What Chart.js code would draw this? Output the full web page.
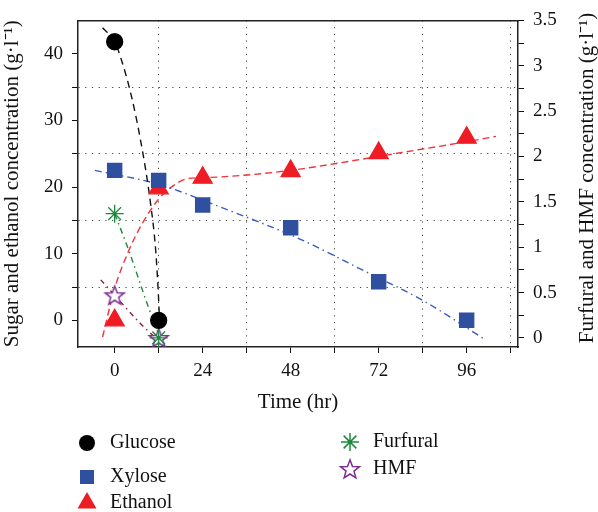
<!DOCTYPE html>
<html>
<head>
<meta charset="utf-8">
<script src="https://cdn.jsdelivr.net/npm/chart.js@4.4.1/dist/chart.umd.min.js"></script>
<style>
  html, body { margin: 0; padding: 0; background: #fff; }
  #wrap { width: 598px; height: 512px; position: relative; }
</style>
</head>
<body>
<div id="wrap"><canvas id="chart" width="598" height="512"></canvas></div>
<script>
// measured points
var glucoseHours = [0, 12];
var glucose = [41.8, 0];
var xyloseHours = [0, 12, 24, 48, 72, 96];
var xylose = [22.5, 21.0, 17.3, 13.9, 5.8, 0];
var ethanolHours = [0, 12, 24, 48, 72, 96];
var ethanol = [0, 19.8, 21.4, 22.4, 25.1, 27.4];
var inhibitorHours = [0, 12];
var furfural = [1.37, 0];
var hmf = [0.47, 0];

// fitted trend curves
var glucoseFitX = [-3.3, 0, 2, 4.5, 7.2, 9.7, 11.2, 12, 12.3];
var glucoseFitY = [43.9, 41.8, 38.8, 33.8, 26.6, 17.9, 10.4, 3, -1];
var xyloseFitX = [-5.4, 12, 28.8, 50.5, 67.4, 84, 100.5];
var xyloseFitY = [22.5, 20.4, 17.0, 12.2, 7.6, 3.0, -2.7];
var ethanolFitX = [-3.3, 0, 3.8, 7.4, 12, 16.5, 20.1, 24, 36, 48, 60, 72, 84, 96, 104];
var ethanolFitY = [-2.5, 4.8, 10.4, 14.4, 18.2, 20.4, 21.3, 21.4, 21.8, 22.5, 23.5, 24.6, 25.7, 26.8, 27.6];
var furfuralFitX = [0, 3.8, 9.2, 12, 13.9];
var furfuralFitY = [1.37, 0.97, 0.34, 0.05, -0.1];
var hmfFitX = [-3.8, 0, 7, 12];
var hmfFitY = [0.64, 0.47, 0.16, -0.03];

// axis ticks
var timeTicks = [0, 12, 24, 36, 48, 60, 72, 84, 96, 108];
var sugarTicks = [0, 5, 10, 15, 20, 25, 30, 35, 40];
var inhibitorTicks = [0, 0.25, 0.5, 0.75, 1, 1.25, 1.5, 1.75, 2, 2.25, 2.5, 2.75, 3, 3.25, 3.5];

var FONT = 'Liberation Serif';
var BLACK = '#000';
var BLUE = '#2f4f9f';
var RED = '#ee1d25';
var GREEN = '#1c8a3c';
var PURPLE = '#7b2f90';

function zip(xs, ys) {
  return xs.map(function (x, i) { return { x: x, y: ys[i] }; });
}

function starPath(ctx, x, y, r) {
  ctx.beginPath();
  for (var i = 0; i < 10; i++) {
    var rr = i % 2 === 0 ? r : r * 0.42;
    var a = -Math.PI / 2 + i * Math.PI / 5;
    var px = x + Math.cos(a) * rr, py = y + Math.sin(a) * rr;
    if (i === 0) ctx.moveTo(px, py); else ctx.lineTo(px, py);
  }
  ctx.closePath();
}

// open star marker for HMF
var starImg = document.createElement('canvas');
starImg.width = 24; starImg.height = 24;
(function () {
  var c = starImg.getContext('2d');
  starPath(c, 12, 12.8, 10);
  c.fillStyle = '#fff';
  c.fill();
  c.lineWidth = 1.5;
  c.strokeStyle = PURPLE;
  c.stroke();
})();

function fitLine(data, color, dash, axis) {
  return {
    type: 'line', data: data, yAxisID: axis,
    borderColor: color, borderWidth: 1.4, borderDash: dash,
    pointRadius: 0, fill: false, cubicInterpolationMode: 'monotone', order: 2
  };
}

function markers(data, style, fill, stroke, radius, axis) {
  return {
    type: 'line', data: data, yAxisID: axis, showLine: false,
    pointStyle: style, pointRadius: radius, pointBackgroundColor: fill,
    pointBorderColor: stroke, pointBorderWidth: 1.3, order: 1
  };
}

var legendItems = [
  { label: 'Glucose', kind: 'circle', x: 87, y: 443 },
  { label: 'Xylose', kind: 'rect', x: 87, y: 477 },
  { label: 'Ethanol', kind: 'triangle', x: 87, y: 503 },
  { label: 'Furfural', kind: 'asterisk', x: 350, y: 442 },
  { label: 'HMF', kind: 'star', x: 350, y: 469 }
];

function drawMarker(ctx, kind, x, y) {
  ctx.save();
  if (kind === 'circle') {
    ctx.beginPath(); ctx.arc(x, y, 8, 0, Math.PI * 2);
    ctx.fillStyle = BLACK; ctx.fill();
  } else if (kind === 'rect') {
    ctx.fillStyle = BLUE; ctx.fillRect(x - 7, y - 7, 14, 14);
  } else if (kind === 'triangle') {
    ctx.beginPath();
    ctx.moveTo(x, y - 11); ctx.lineTo(x + 9.5, y + 5.5); ctx.lineTo(x - 9.5, y + 5.5);
    ctx.closePath(); ctx.fillStyle = RED; ctx.fill();
  } else if (kind === 'asterisk') {
    ctx.strokeStyle = GREEN; ctx.lineWidth = 1.5;
    ctx.beginPath();
    for (var i = 0; i < 4; i++) {
      var a = i * Math.PI / 4;
      ctx.moveTo(x + Math.cos(a) * 9, y + Math.sin(a) * 9);
      ctx.lineTo(x - Math.cos(a) * 9, y - Math.sin(a) * 9);
    }
    ctx.stroke();
  } else if (kind === 'star') {
    starPath(ctx, x, y + 0.8, 10);
    ctx.fillStyle = '#fff'; ctx.fill();
    ctx.lineWidth = 1.5; ctx.strokeStyle = PURPLE; ctx.stroke();
  }
  ctx.restore();
}

var extrasPlugin = {
  id: 'extras',
  afterDraw: function (chart) {
    var ctx = chart.ctx;
    ctx.save();
    // right axis title reads bottom-to-top like the left one
    ctx.font = '21px "' + FONT + '"';
    ctx.fillStyle = '#111';
    ctx.textAlign = 'center';
    ctx.textBaseline = 'middle';
    ctx.translate(587, 178);
    ctx.rotate(-Math.PI / 2);
    ctx.fillText('Furfural and HMF concentration (g\u00b7l\u207b\u00b9)', 0, 0);
    ctx.restore();

    ctx.save();
    ctx.font = '20px "' + FONT + '"';
    ctx.fillStyle = '#111';
    ctx.textAlign = 'left';
    ctx.textBaseline = 'middle';
    legendItems.forEach(function (it) {
      drawMarker(ctx, it.kind, it.x, it.y);
      ctx.fillText(it.label, it.x + 23, it.y);
    });
    ctx.restore();
  }
};

function setTicks(list) {
  return function (scale) {
    scale.ticks = list.map(function (v) { return { value: v }; });
  };
}

var tickFont = { family: FONT, size: 19 };
var titleFont = { family: FONT, size: 21 };

new Chart(document.getElementById('chart'), {
  type: 'line',
  data: {
    datasets: [
      markers(zip(glucoseHours, glucose), 'circle', BLACK, BLACK, 8, 'y'),
      markers(zip(xyloseHours, xylose), 'rect', BLUE, BLUE, 10, 'y'),
      markers(zip(ethanolHours, ethanol), 'triangle', RED, RED, 11, 'y'),
      markers(zip(inhibitorHours, furfural), 'star', GREEN, GREEN, 9, 'y2'),
      markers(zip(inhibitorHours, hmf), starImg, PURPLE, PURPLE, 10, 'y2'),
      fitLine(zip(glucoseFitX, glucoseFitY), '#111', [7, 5], 'y'),
      fitLine(zip(xyloseFitX, xyloseFitY), '#3a5cc0', [7, 4, 1.5, 4], 'y'),
      fitLine(zip(ethanolFitX, ethanolFitY), '#f0333a', [7, 4], 'y'),
      fitLine(zip(furfuralFitX, furfuralFitY), GREEN, [6, 4, 1.5, 4], 'y2'),
      fitLine(zip(hmfFitX, hmfFitY), '#8a1f35', [5, 4, 1.5, 4], 'y2')
    ]
  },
  options: {
    responsive: false,
    animation: false,
    events: [],
    layout: { padding: { left: 0, right: 0, top: 0, bottom: 90 } },
    plugins: { legend: { display: false }, tooltip: { enabled: false } },
    scales: {
      x: {
        type: 'linear', position: 'bottom', min: -10, max: 110,
        afterBuildTicks: setTicks(timeTicks),
        afterFit: function (s) { s.height = 75; },
        ticks: {
          autoSkip: false, maxRotation: 0, color: '#111', font: tickFont, padding: 7,
          callback: function (v) { return v % 24 === 0 ? String(v) : ''; }
        },
        grid: {
          color: function (c) { return c.tick && c.tick.value % 24 === 12 ? '#444' : 'rgba(0,0,0,0)'; },
          tickColor: '#111', tickLength: 6, lineWidth: 1
        },
        border: { color: '#222', width: 1.5, dash: [1.2, 5.5] },
        title: { display: true, text: 'Time (hr)', color: '#111', font: titleFont, padding: { top: 0, bottom: 7 } }
      },
      x2: {
        type: 'linear', position: 'top', min: -10, max: 110,
        afterBuildTicks: setTicks(timeTicks),
        afterFit: function (s) { s.height = 19; },
        ticks: { display: false },
        grid: { drawOnChartArea: false, drawTicks: false },
        border: { color: '#222', width: 1.5 }
      },
      y: {
        type: 'linear', position: 'left', min: -4, max: 45,
        afterBuildTicks: setTicks(sugarTicks),
        afterFit: function (s) { s.width = 78; },
        ticks: {
          autoSkip: false, color: '#111', font: tickFont, padding: 9,
          callback: function (v) { return v % 10 === 0 ? String(v) : ''; }
        },
        grid: {
          color: function (c) { return c.tick && c.tick.value % 10 === 5 ? '#444' : 'rgba(0,0,0,0)'; },
          tickColor: '#111', tickLength: 6, lineWidth: 1
        },
        border: { color: '#222', width: 1.5, dash: [1.2, 5.5] },
        title: {
          display: true, text: 'Sugar and ethanol concentration (g\u00b7l\u207b\u00b9)',
          color: '#111', font: titleFont, padding: { top: 0, bottom: 0 }
        }
      },
      y2: {
        type: 'linear', position: 'right', min: -0.1, max: 3.5,
        afterBuildTicks: setTicks(inhibitorTicks),
        afterFit: function (s) { s.width = 80; },
        ticks: {
          autoSkip: false, color: '#111', font: tickFont, padding: 9,
          callback: function (v) { return Math.abs(v * 2 - Math.round(v * 2)) < 1e-6 ? String(v) : ''; }
        },
        grid: { drawOnChartArea: false, tickColor: '#111', tickLength: 6 },
        border: { color: '#222', width: 1.5 }
      }
    }
  },
  plugins: [extrasPlugin]
});
</script>
</body>
</html>
